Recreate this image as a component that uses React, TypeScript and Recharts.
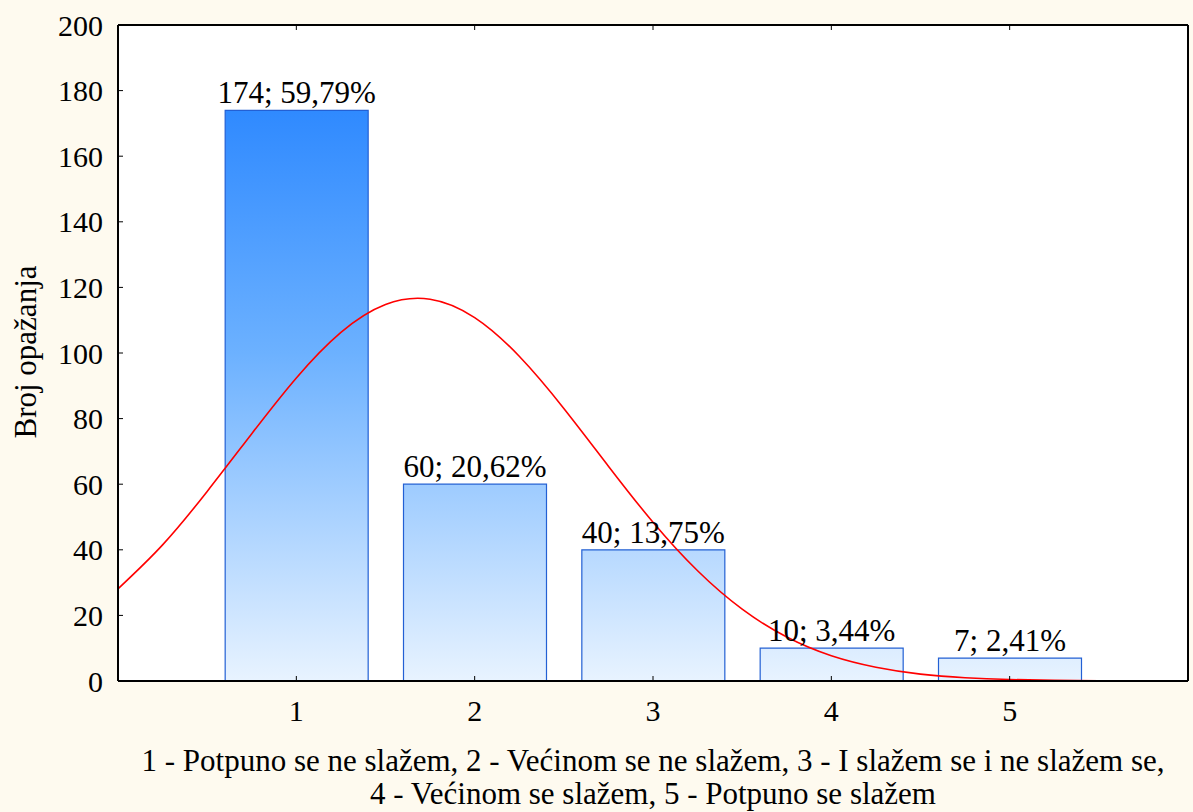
import { Bar, CartesianGrid, ComposedChart, LabelList, Line, XAxis, YAxis } from "recharts";

const categories = [1, 2, 3, 4, 5];
const counts = [174, 60, 40, 10, 7];
const percents = ["59,79", "20,62", "13,75", "3,44", "2,41"];
const yTicks = [0, 20, 40, 60, 80, 100, 120, 140, 160, 180, 200];

// fitted normal curve
const curveX = [0, 0.25, 0.5, 0.75, 1, 1.25, 1.5, 1.75, 2, 2.25, 2.5, 2.75, 3, 3.25, 3.5, 3.75, 4, 4.25, 4.5, 4.75, 5, 5.25, 5.5, 5.75];
const curveY = [28.1, 41.5, 57.8, 75.4, 92.4, 106.3, 114.8, 116.4, 110.8, 99, 83.1, 65.5, 48.4, 33.6, 21.9, 13.4, 7.7, 4.2, 2.1, 1, 0.45, 0.2, 0.07, 0.03];

const caption1 = "1 - Potpuno se ne slažem, 2 - Većinom se ne slažem, 3 - I slažem se i ne slažem se,";
const caption2 = "4 - Većinom se slažem, 5 - Potpuno se slažem";

const barData = categories.map((c, i) => ({ x: c, count: counts[i], label: `${counts[i]}; ${percents[i]}%` }));
const curveData = curveX.map((x, i) => ({ x, fit: curveY[i] }));

const FONT = "'Liberation Serif', 'Times New Roman', serif";
const tickStyle = { fill: "#000", fontSize: 30, fontFamily: FONT };

const BarLabel = (props: any) => {
  const { x, y, width, value } = props;
  return (
    <text x={x + width / 2} y={y - 7} textAnchor="middle" fill="#000" fontSize={31} fontFamily={FONT}>
      {value}
    </text>
  );
};

export default function App() {
  return (
    <div style={{ position: "absolute", left: 0, top: 0, width: 1193, height: 812, background: "#fefaef", fontFamily: FONT }}>
      <ComposedChart
        width={1193}
        height={812}
        data={barData}
        margin={{ top: 24, right: 4, bottom: 81, left: 0 }}
      >
        <defs>
          <linearGradient id="barGrad" gradientUnits="userSpaceOnUse" x1="0" y1="25" x2="0" y2="681">
            <stop offset="0" stopColor="#1a7cff" />
            <stop offset="0.5" stopColor="#6cb1ff" />
            <stop offset="1" stopColor="#e8f3ff" />
          </linearGradient>
        </defs>
        <rect x={118} y={25} width={1070} height={656} fill="#ffffff" />
        <CartesianGrid vertical={false} stroke="#d8d8d8" strokeWidth={1.5} />
        <XAxis
          dataKey="x"
          type="number"
          domain={[0, 6]}
          ticks={categories}
          allowDataOverflow
          height={50}
          tickSize={-5}
          tickMargin={24}
          tick={tickStyle}
          stroke="#000"
          axisLine={{ stroke: "#000", strokeWidth: 2 }}
        />
        <XAxis
          xAxisId="top"
          orientation="top"
          dataKey="x"
          type="number"
          domain={[0, 6]}
          ticks={categories}
          allowDataOverflow
          height={1}
          tickSize={-5}
          tickFormatter={() => ""}
          stroke="#000"
          axisLine={{ stroke: "#000", strokeWidth: 2 }}
        />
        <YAxis
          type="number"
          domain={[0, 200]}
          ticks={yTicks}
          width={118}
          tickSize={-5}
          tickMargin={20}
          tick={tickStyle}
          stroke="#000"
          axisLine={{ stroke: "#000", strokeWidth: 2 }}
        />
        <YAxis
          yAxisId="r"
          orientation="right"
          type="number"
          domain={[0, 200]}
          ticks={yTicks}
          width={1}
          tickSize={-5}
          tickFormatter={() => ""}
          stroke="#000"
          axisLine={{ stroke: "#000", strokeWidth: 2 }}
        />
        <Bar dataKey="count" barSize={143} fill="url(#barGrad)" stroke="#2360d4" strokeWidth={1.2} isAnimationActive={false}>
          <LabelList dataKey="label" content={BarLabel} />
        </Bar>
        <Line
          xAxisId="top"
          data={curveData}
          dataKey="fit"
          type="natural"
          stroke="#ff0000"
          strokeWidth={1.6}
          dot={false}
          activeDot={false}
          isAnimationActive={false}
        />
      </ComposedChart>
      <div style={{ position: "absolute", left: 25, top: 352, width: 0, height: 0 }}>
        <div
          style={{
            position: "absolute",
            left: 0,
            top: 0,
            transform: "translate(-50%, -50%) rotate(-90deg)",
            whiteSpace: "nowrap",
            fontSize: 31,
            lineHeight: "31px",
            color: "#000",
          }}
        >
          Broj opažanja
        </div>
      </div>
      <div
        style={{
          position: "absolute",
          left: 118,
          width: 1070,
          top: 744,
          textAlign: "center",
          fontSize: 31,
          lineHeight: "33px",
          color: "#000",
          whiteSpace: "nowrap",
        }}
      >
        <div>{caption1}</div>
        <div>{caption2}</div>
      </div>
    </div>
  );
}
